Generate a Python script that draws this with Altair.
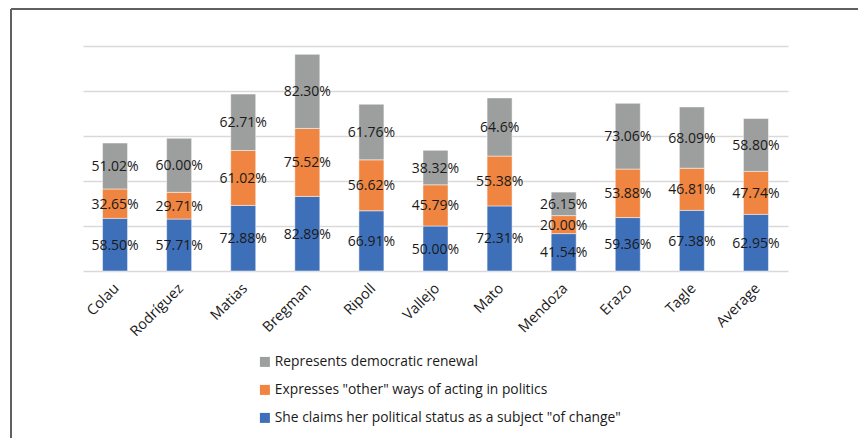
import altair as alt
import pandas as pd

candidates = ["Colau", "Rodríguez", "Matias", "Bregman", "Ripoll", "Vallejo",
              "Mato", "Mendoza", "Erazo", "Tagle", "Average"]
series_names = [
    'She claims her political status as a subject "of change"',
    'Expresses "other" ways of acting in politics',
    'Represents democratic renewal',
]
series_colors = ["#3E70BA", "#EF8540", "#9D9F9E"]

change = [58.50, 57.71, 72.88, 82.89, 66.91, 50.00, 72.31, 41.54, 59.36, 67.38, 62.95]
other = [32.65, 29.71, 61.02, 75.52, 56.62, 45.79, 55.38, 20.00, 53.88, 46.81, 47.74]
renewal = [51.02, 60.00, 62.71, 82.30, 61.76, 38.32, 64.60, 26.15, 73.06, 68.09, 58.80]

change_labels = ["58.50%", "57.71%", "72.88%", "82.89%", "66.91%", "50.00%",
                 "72.31%", "41.54%", "59.36%", "67.38%", "62.95%"]
other_labels = ["32.65%", "29.71%", "61.02%", "75.52%", "56.62%", "45.79%",
                "55.38%", "20.00%", "53.88%", "46.81%", "47.74%"]
renewal_labels = ["51.02%", "60.00%", "62.71%", "82.30%", "61.76%", "38.32%",
                  "64.6%", "26.15%", "73.06%", "68.09%", "58.80%"]

rows = []
for s_idx, (name, vals, labs) in enumerate(zip(series_names,
                                               [change, other, renewal],
                                               [change_labels, other_labels, renewal_labels])):
    for c, v, l in zip(candidates, vals, labs):
        rows.append({"candidate": c, "series": name, "value": v, "label": l, "order": s_idx})
df = pd.DataFrame(rows)

FONT = "Open Sans"
W, H = 705, 225

base = alt.Chart(df).transform_stack(
    stack="value", groupby=["candidate"], sort=[alt.SortField("order")], as_=["y0", "y1"]
).transform_calculate(mid="(datum.y0 + datum.y1) / 2")

x_enc = alt.X(
    "candidate:N", sort=candidates, title=None,
    scale=alt.Scale(paddingInner=0, paddingOuter=0),
    axis=alt.Axis(labelAngle=-45, labelAlign="right", labelBaseline="middle",
                  labelFontSize=14.5, labelColor="#1a1a1a", labelFont=FONT,
                  labelPadding=15, labelOffset=2, domain=False, ticks=False, grid=False),
)
y_scale = alt.Scale(domain=[0, 250], nice=False)

bars = base.mark_bar(width=25, stroke="#ffffff", strokeWidth=0.8, strokeOpacity=0.6).encode(
    x=x_enc,
    y=alt.Y("y0:Q", scale=y_scale, title=None,
            axis=alt.Axis(values=[0, 50, 100, 150, 200, 250], labels=False, ticks=False,
                          domain=False, grid=True, gridColor="#D9D9D9", gridWidth=1.5)),
    y2="y1:Q",
    color=alt.Color(
        "series:N",
        scale=alt.Scale(domain=series_names[::-1], range=series_colors[::-1]),
        legend=alt.Legend(title=None, orient="none", legendX=175, legendY=309,
                          direction="vertical", symbolType="square", symbolSize=100,
                          symbolStrokeWidth=0, labelFontSize=13.8, labelFont=FONT,
                          labelColor="#1a1a1a", rowPadding=13, labelOffset=3,
                          labelLimit=500),
    ),
    order=alt.Order("order:Q"),
)

texts = base.mark_text(fontSize=14, font=FONT, color="#1a1a1a", baseline="middle", dy=1).encode(
    x=alt.X("candidate:N", sort=candidates),
    y=alt.Y("mid:Q", scale=y_scale),
    text="label:N",
)

frame_left = alt.Chart(df).mark_rule(color="#606060", strokeWidth=2).encode(
    x=alt.value(-72), y=alt.value(-37), y2=alt.value(400)
)
frame_top = alt.Chart(df).mark_rule(color="#606060", strokeWidth=2).encode(
    x=alt.value(-72), x2=alt.value(790), y=alt.value(-37)
)

chart = alt.layer(bars, texts, frame_left, frame_top).properties(
    width=W, height=H,
    padding={"left": 83, "top": 46, "right": 70, "bottom": 167},
    autosize=alt.AutoSizeParams(type="none"),
).configure(font=FONT).configure_view(stroke=None)

chart.save("out.html", embed_options={"renderer": "svg", "actions": False})
